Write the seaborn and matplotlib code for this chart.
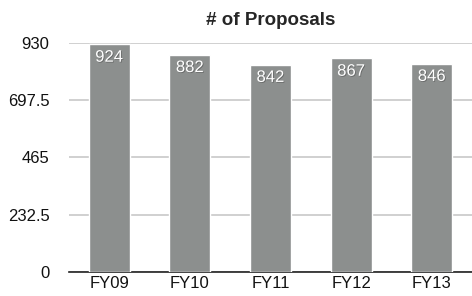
import pandas as pd
import seaborn as sns
import matplotlib.pyplot as plt
import matplotlib.patheffects as pe

years = ["FY09", "FY10", "FY11", "FY12", "FY13"]
proposals = [924, 882, 842, 867, 846]
yticks = [0, 232.5, 465, 697.5, 930]

df = pd.DataFrame({"Year": years, "Proposals": proposals})

sns.set_style("white")
plt.rcParams["font.family"] = ["Liberation Sans", "DejaVu Sans"]

fig = plt.figure(figsize=(4.72, 2.96), dpi=100)
ax = fig.add_axes([0.146, 0.081, 0.854, 0.774])
sns.barplot(data=df, x="Year", y="Proposals", color="#8c8f8e", saturation=1,
            width=0.51, ax=ax, zorder=3)

ax.set_ylim(0, 930)
ax.set_yticks(yticks)
ax.set_yticklabels(["0", "232.5", "465", "697.5", "930"])
ax.yaxis.grid(True, color="#c8c8c8", linewidth=1.2, zorder=0)
ax.set_axisbelow(True)
for s in ["left", "right", "top"]:
    ax.spines[s].set_visible(False)
ax.spines["bottom"].set_color("#222222")
ax.spines["bottom"].set_linewidth(1.2)
ax.tick_params(axis="both", length=0, labelsize=12, colors="#111111")
ax.tick_params(axis="y", pad=14)
ax.tick_params(axis="x", pad=3)
ax.set_xlabel("")
ax.set_ylabel("")
ax.set_title("# of Proposals", fontsize=13.5, fontweight="bold", pad=13)

for i, v in enumerate(proposals):
    ax.text(i, v - 52, str(v), ha="center", va="center", color="white",
            fontsize=12, zorder=5,
            path_effects=[pe.withSimplePatchShadow(offset=(0.6, -0.6), shadow_rgbFace="#444444", alpha=0.5)])

fig.savefig("out.png", dpi=100)
